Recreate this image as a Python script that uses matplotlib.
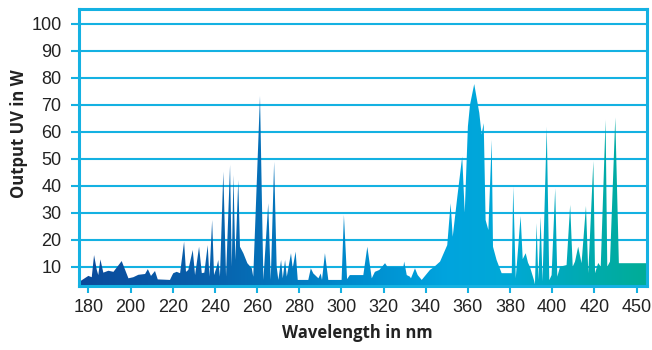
import numpy as np
import matplotlib.pyplot as plt
from matplotlib.colors import LinearSegmentedColormap

# ---- data (outline of the UV spectrum)
wavelength = [
    175.7, 180.0, 181.6, 182.7, 184.0, 184.7, 185.7, 187.1, 189.5, 191.9,
    195.8, 199.0, 201.3, 203.7, 206.9, 208.2, 209.7, 211.6, 212.9, 218.7,
    219.8, 220.3, 221.9, 223.5, 225.4, 226.3, 227.4, 229.5, 230.6, 232.5,
    233.8, 235.0, 236.6, 237.4, 238.7, 239.6, 240.9, 241.6, 242.4, 244.0,
    245.3, 247.2, 248.0, 248.8, 249.7, 251.1, 251.9, 253.5, 255.4, 257.5,
    258.2, 261.4, 263.0, 265.3, 266.5, 268.1, 269.3, 270.1, 271.4, 272.2,
    273.3, 274.1, 276.1, 276.9, 278.3, 279.3, 284.3, 285.5, 286.7, 289.1,
    290.2, 290.8, 292.2, 293.8, 300.1, 301.2, 302.7, 304.0, 310.4, 312.3,
    314.4, 315.9, 318.0, 320.7, 321.8, 329.4, 329.8, 331.0, 332.5, 333.0,
    334.9, 336.2, 338.1, 342.0, 344.1, 346.8, 350.2, 351.8, 352.8, 355.0,
    357.3, 358.5, 360.0, 361.0, 363.0, 365.4, 366.5, 367.5, 368.4, 369.7,
    371.3, 371.9, 373.6, 376.0, 380.8, 381.5, 382.7, 385.0, 386.0, 387.4,
    388.5, 389.4, 391.3, 391.8, 392.6, 393.4, 394.5, 395.4, 397.4, 398.6,
    399.7, 401.4, 402.4, 403.7, 406.8, 408.5, 409.7, 410.8, 412.3, 413.9,
    416.0, 417.1, 419.5, 420.3, 421.8, 423.0, 425.3, 426.1, 427.4, 429.9,
    431.6, 444.8,
]
output_uv = [
    4.4, 6.6, 6.1, 14.3, 8.8, 6.9, 12.7, 7.8, 8.5, 8.1,
    12.1, 5.7, 6.1, 7.0, 7.3, 9.1, 6.6, 8.4, 5.3, 5.1,
    6.9, 7.6, 8.1, 7.6, 19.3, 8.1, 8.8, 16.2, 6.9, 17.4,
    7.6, 7.8, 18.0, 6.3, 27.3, 6.9, 10.0, 12.5, 6.3, 45.2,
    6.3, 47.7, 10.0, 44.0, 12.5, 42.1, 17.4, 15.0, 11.3, 9.4,
    6.3, 73.3, 5.1, 33.5, 5.1, 48.9, 10.0, 5.1, 12.5, 5.7,
    12.5, 6.3, 15.0, 9.4, 15.6, 5.1, 5.1, 9.4, 7.5, 5.7,
    7.5, 5.1, 15.0, 5.1, 5.1, 29.2, 5.4, 6.9, 6.9, 17.4,
    5.7, 8.1, 8.8, 11.3, 10.0, 10.0, 11.9, 6.9, 6.3, 5.7,
    9.4, 6.9, 5.1, 8.8, 10.0, 11.9, 18.0, 33.5, 21.1, 36.0,
    50.8, 30.0, 62.0, 70.0, 77.7, 67.0, 59.0, 63.2, 27.3, 23.6,
    57.0, 17.4, 12.5, 7.6, 7.6, 39.7, 5.7, 28.8, 12.8, 15.0,
    11.5, 10.0, 5.1, 3.5, 26.1, 5.1, 28.5, 4.6, 61.9, 5.0,
    6.9, 39.0, 6.3, 10.0, 10.6, 32.9, 10.0, 11.9, 17.4, 11.3,
    32.5, 7.6, 49.2, 7.6, 11.4, 10.0, 64.4, 10.0, 11.9, 65.3,
    11.3, 11.3,
]

yticks = [10, 20, 30, 40, 50, 60, 70, 80, 90, 100]
xticks = [180, 200, 220, 240, 260, 280, 300, 320, 340, 360, 380, 400, 420, 440]
xtick_labels = ["180", "200", "220", "240", "260", "280", "300", "320",
                "340", "360", "380", "400", "420", "450"]

XMIN, XMAX = 175.7, 444.8
YMIN, YMAX = 2.85, 105.4
LINE_C = "#14b1e2"
TEXT_C = "#222222"

# colour stops along the wavelength axis (dark blue -> cyan -> teal)
stops = [(175.7, "#0b4a9b"), (240, "#0862ad"), (300, "#0088cb"),
         (350, "#00a4de"), (380, "#00a9d6"), (410, "#00aab6"), (444.8, "#00ad97")]

fig = plt.figure(figsize=(6.52, 3.5), dpi=100)
ax = fig.add_axes([79.3 / 652, 1 - 286 / 350, (646.7 - 79.3) / 652, (286 - 9.3) / 350])

poly = ax.fill_between(wavelength, output_uv, 0, facecolor="none", linewidth=0)
cmap = LinearSegmentedColormap.from_list(
    "uv", [((w - XMIN) / (XMAX - XMIN), c) for w, c in stops])
grad = np.linspace(0, 1, 600).reshape(1, -1)
im = ax.imshow(grad, extent=[XMIN, XMAX, 0, 110], aspect="auto", cmap=cmap,
               origin="lower", zorder=2, interpolation="bilinear")
im.set_clip_path(poly.get_paths()[0], transform=ax.transData)

ax.set_xlim(XMIN, XMAX)
ax.set_ylim(YMIN, YMAX)

ax.set_axisbelow(True)
ax.yaxis.grid(True, color=LINE_C, linewidth=1.5)
for sp in ax.spines.values():
    sp.set_color(LINE_C)
    sp.set_linewidth(2.2)
    sp.set_zorder(3)

tick_font = dict(family=["Liberation Sans Narrow", "Liberation Sans", "DejaVu Sans"], size=13)
ax.set_yticks(yticks)
ax.set_yticklabels([str(v) for v in yticks], **tick_font, color=TEXT_C)
ax.set_xticks(xticks)
ax.set_xticklabels(xtick_labels, **tick_font, color=TEXT_C)
ax.tick_params(axis="y", length=5.8, width=1.5, color=LINE_C, pad=7)
ax.tick_params(axis="x", length=5, width=1.5, color=LINE_C, pad=4)

label_font = dict(family=["Open Sans", "DejaVu Sans"], weight="bold", size=12, color=TEXT_C)
fig.text(357 / 652, 1 - 333 / 350, "Wavelength in nm", ha="center", va="center", **label_font)
fig.text(19 / 652, 1 - 134 / 350, "Output UV in W", ha="center", va="center",
         rotation=90, **label_font)

fig.savefig("out.png", dpi=100)
